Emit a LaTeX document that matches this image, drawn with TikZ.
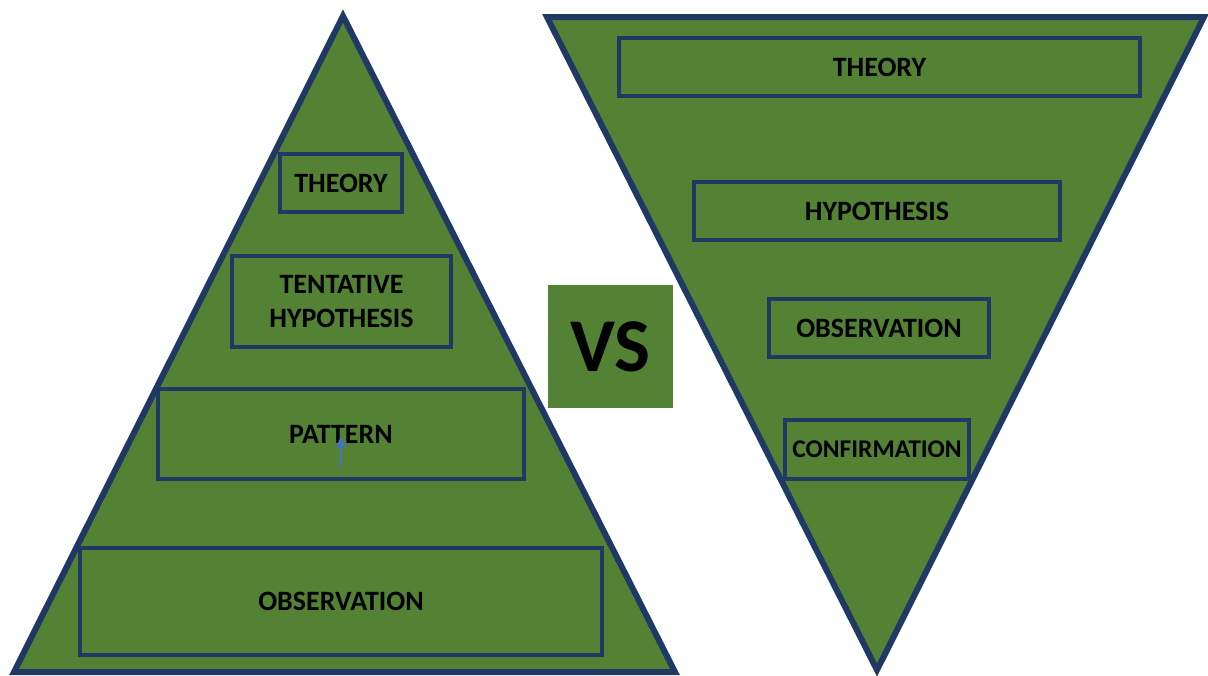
\documentclass[tikz,border=0pt]{standalone}
\usepackage{fontspec}
\setmainfont{Carlito}
\usetikzlibrary{shapes, arrows, arrows.meta, positioning}
\definecolor{leafgreen}{HTML}{548235}
\definecolor{navyline}{HTML}{203864}
\definecolor{tipblue}{HTML}{4472C4}

\begin{document}
\begin{tikzpicture}[x=1pt, y=-1pt]
% Styles
\tikzstyle{pyramid} = [draw=navyline, line width=6pt, line join=miter, fill=leafgreen]
\tikzstyle{level} = [rectangle, draw=navyline, line width=4.5pt, fill=leafgreen, text centered, align=center, font=\fontsize{28}{34}\selectfont\bfseries, inner sep=0pt]
\tikzstyle{versus} = [rectangle, fill=leafgreen, minimum width=125pt, minimum height=123pt, font=\fontsize{76}{80}\selectfont\bfseries]
\tikzstyle{arrow} = [line width=2.5pt, draw=tipblue, -{Stealth[length=13pt, width=11pt]}]

\useasboundingbox (0,0) rectangle (1208,675);

% Triangles
\draw [pyramid] (343,16) -- (675,672) -- (14,672) -- cycle;
\draw [pyramid] (547,17) -- (1204,17) -- (877,670) -- cycle;

% Left boxes
\node [level, minimum width=122pt, minimum height=58pt] (ltheory) at (341,183) {THEORY};
\node [level, minimum width=219pt, minimum height=91pt] (tentative) at (341.5,301.5) {TENTATIVE\\HYPOTHESIS};
\node [level, minimum width=366pt, minimum height=90pt] (pattern) at (341,434) {PATTERN};
\node [level, minimum width=522pt, minimum height=107pt] (lobserv) at (341,601.5) {OBSERVATION};

% VS
\node [versus] (vs) at (610.5,346.5) {VS};

% Right boxes
\node [level, minimum width=521pt, minimum height=58pt] (rtheory) at (879.5,67) {THEORY};
\node [level, minimum width=366pt, minimum height=58pt] (hypo) at (877,211) {HYPOTHESIS};
\node [level, minimum width=220pt, minimum height=58pt] (robserv) at (879,328) {OBSERVATION};
\node [level, minimum width=184pt, minimum height=59pt, font=\fontsize{25.5}{30}\selectfont\bfseries] (confirm) at (877,449.5) {CONFIRMATION};

% Small arrow
\coordinate (tailpt) at (341,467);
\coordinate (headpt) at (341,436);
\draw [arrow] (tailpt) -- (headpt);
\end{tikzpicture}
\end{document}
